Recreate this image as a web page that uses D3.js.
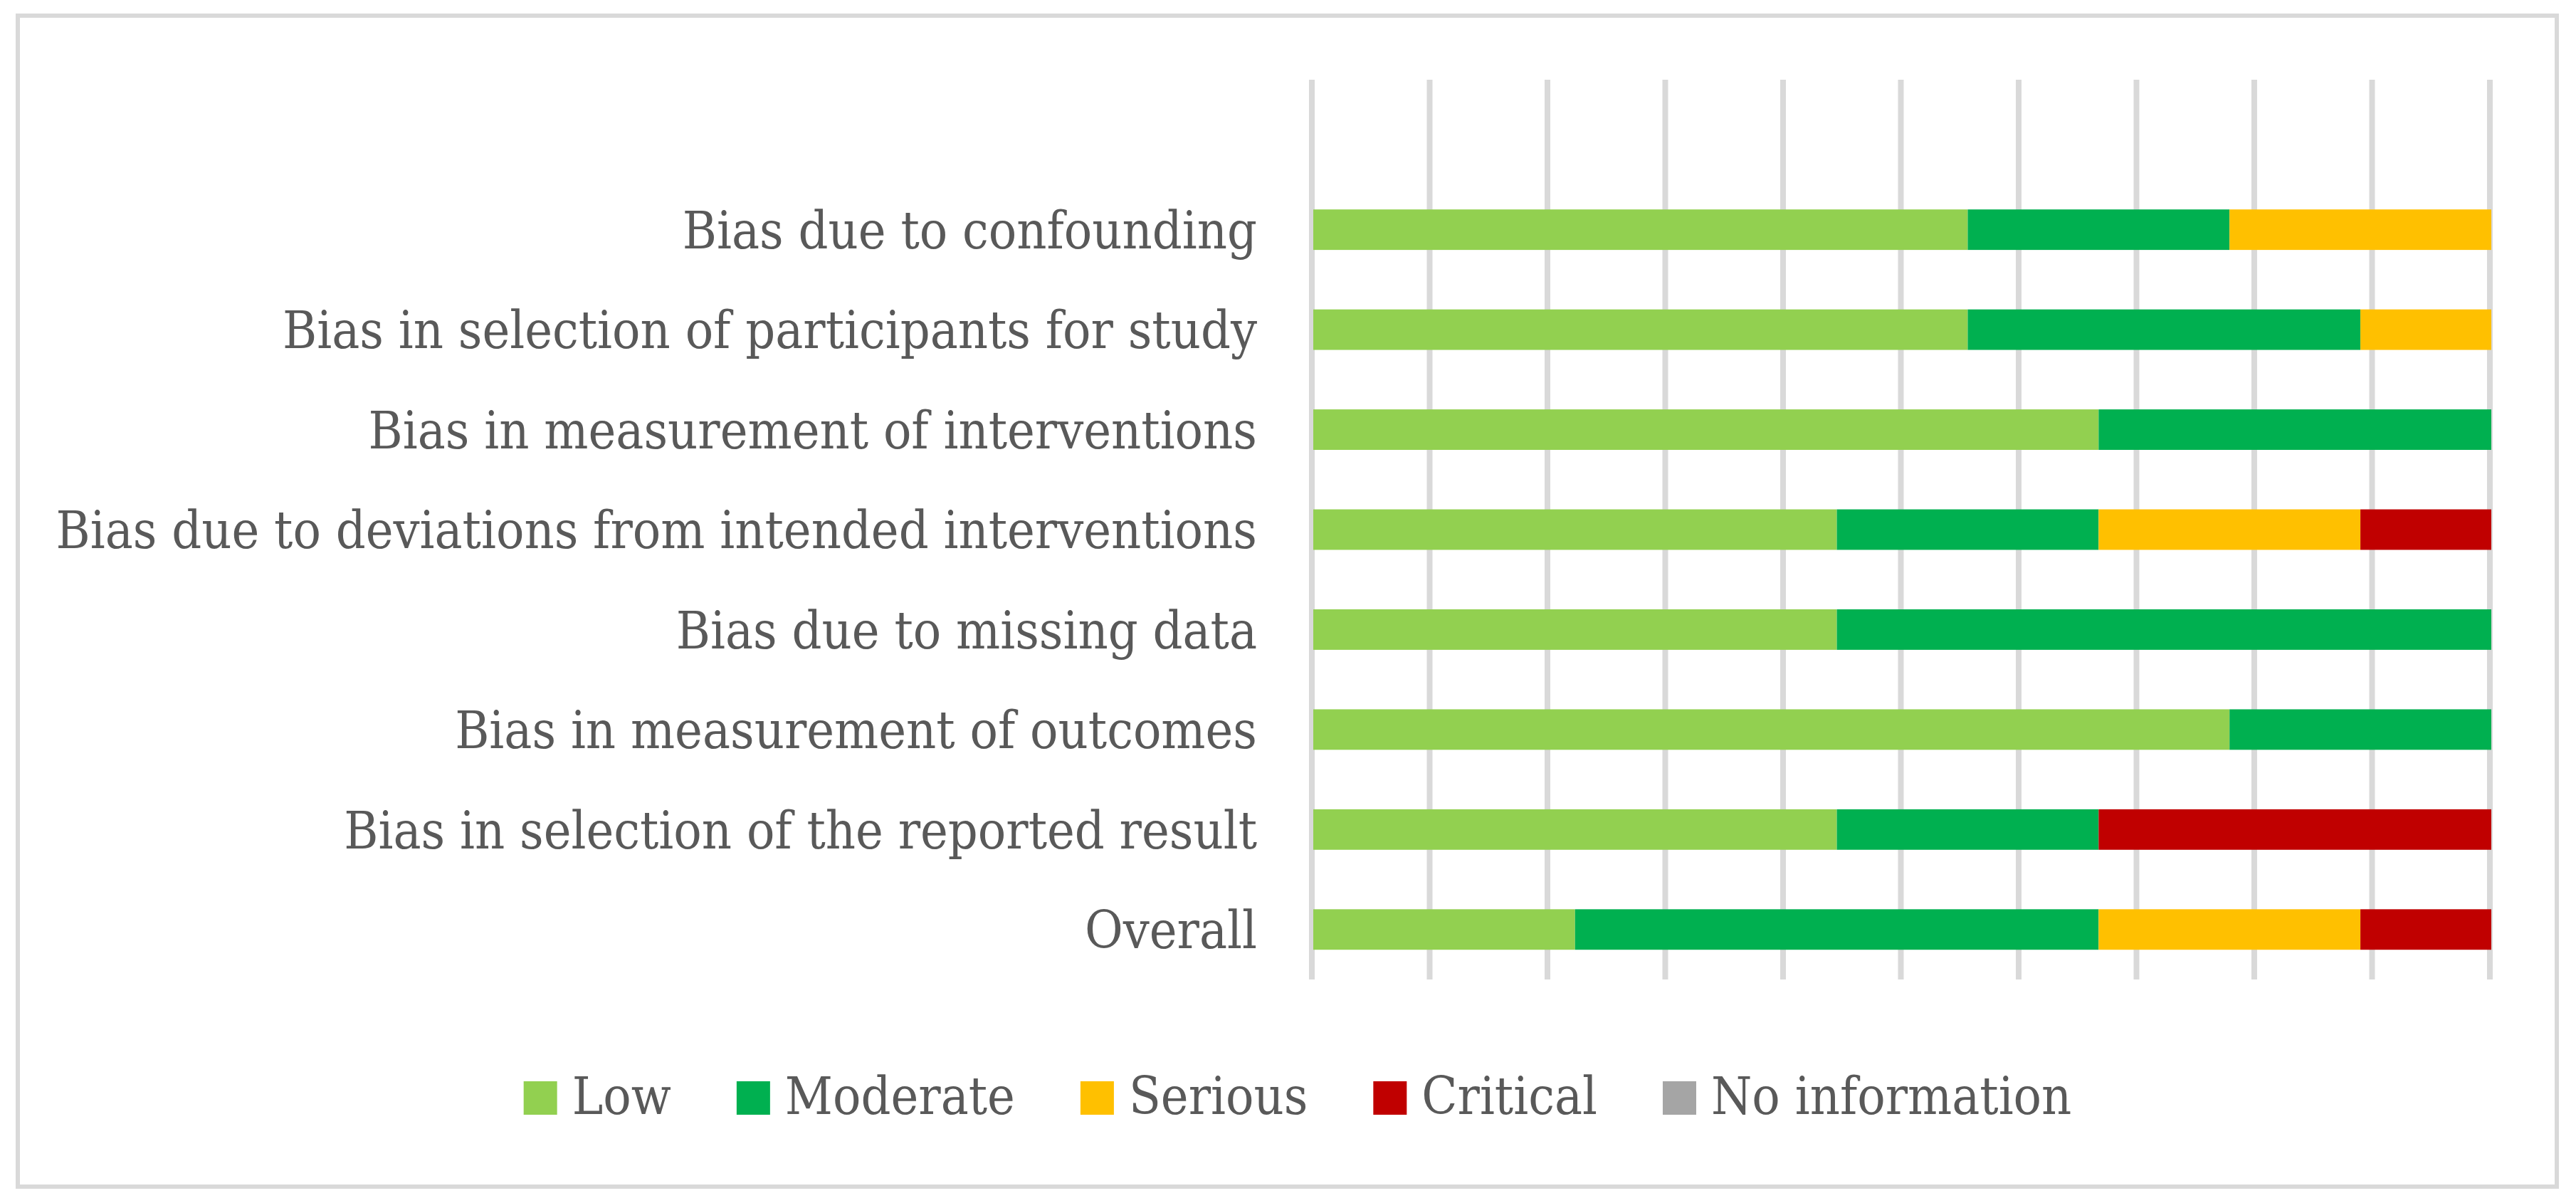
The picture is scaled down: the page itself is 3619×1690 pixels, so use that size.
<!DOCTYPE html>
<html>
<head>
<meta charset="utf-8">
<script src="https://cdn.jsdelivr.net/npm/d3@7"></script>
<style>
  body { margin: 0; background: #fff; }
  text { font-family: "DejaVu Serif Condensed", "DejaVu Serif", serif; fill: #595959; }
</style>
</head>
<body>
<div class="chart"></div>
<script>
// risk of bias judgements, number of studies (9 in total)
var domains = [
    "Bias due to confounding",
    "Bias in selection of participants for study",
    "Bias in measurement of interventions",
    "Bias due to deviations from intended interventions",
    "Bias due to missing data",
    "Bias in measurement of outcomes",
    "Bias in selection of the reported result",
    "Overall"
];
var low = [5, 5, 6, 4, 4, 7, 4, 2];
var moderate = [2, 3, 3, 2, 5, 2, 2, 4];
var serious = [2, 1, 0, 2, 0, 0, 0, 2];
var critical = [0, 0, 0, 1, 0, 0, 3, 1];
var noInfo = [0, 0, 0, 0, 0, 0, 0, 0];
var levels = ["Low", "Moderate", "Serious", "Critical", "No information"];
var gridTicks = [0, 0.1, 0.2, 0.3, 0.4, 0.5, 0.6, 0.7, 0.8, 0.9, 1];

var W = 3619, H = 1690;
var margin = { top: 112, left: 1845, right: 119, bottom: 314 };

var rows = domains.map(function (d, i) {
    var total = low[i] + moderate[i] + serious[i] + critical[i] + noInfo[i];
    return {
        domain: d,
        "Low": low[i] / total,
        "Moderate": moderate[i] / total,
        "Serious": serious[i] / total,
        "Critical": critical[i] / total,
        "No information": noInfo[i] / total
    };
});

var svg = d3.select(".chart")
    .append("svg")
    .attr("width", W)
    .attr("height", H);

// outer frame
svg.append("rect")
    .attr("x", 25).attr("y", 22)
    .attr("width", 3567).attr("height", 1645)
    .attr("fill", "#fff")
    .attr("stroke", "#d9d9d9")
    .attr("stroke-width", 6);

var x = d3.scaleLinear()
    .domain([0, 1])
    .range([margin.left, W - margin.right]);

// an empty band sits above the first domain, as in the original
var y = d3.scaleBand()
    .domain([" "].concat(domains))
    .range([margin.top, H - margin.bottom])
    .paddingInner(0.595)
    .paddingOuter(0.2975);

var color = d3.scaleOrdinal()
    .domain(levels)
    .range(["#92d050", "#00b050", "#ffc000", "#c00000", "#a5a5a5"]);

// vertical gridlines
svg.append("g")
    .selectAll("line")
    .data(gridTicks)
    .enter().append("line")
    .attr("x1", function (d) { return x(d) - 2; })
    .attr("x2", function (d) { return x(d) - 2; })
    .attr("y1", margin.top)
    .attr("y2", H - margin.bottom)
    .attr("stroke", "#d9d9d9")
    .attr("stroke-width", 8);

var stacked = d3.stack().keys(levels)(rows);

svg.append("g")
    .selectAll("g")
    .data(stacked)
    .enter().append("g")
    .attr("fill", function (d) { return color(d.key); })
    .selectAll("rect")
    .data(function (d) { return d; })
    .enter().append("rect")
    .attr("x", function (d) { return x(d[0]); })
    .attr("y", function (d) { return y(d.data.domain); })
    .attr("width", function (d) { return x(d[1]) - x(d[0]); })
    .attr("height", y.bandwidth());

// category labels
var labels = svg.append("g")
    .selectAll("text")
    .data(domains)
    .enter().append("text")
    .attr("x", 1766)
    .attr("y", function (d) { return y(d) + y.bandwidth() / 2; })
    .attr("dy", "0.36em")
    .attr("text-anchor", "end")
    .style("font-size", "70px")
    .text(function (d) { return d; });

// size the font so the longest label spans like the original (~1688px)
var longest = d3.max(labels.nodes(), function (n) { return n.getComputedTextLength(); });
var fontSize = 70 * 1688 / longest;
labels.style("font-size", fontSize + "px");

// legend
var legend = svg.append("g");
var items = legend.selectAll("g")
    .data(levels)
    .enter().append("g");
items.append("rect")
    .attr("width", 47).attr("height", 47)
    .attr("y", 1519)
    .attr("fill", function (d) { return color(d); });
items.append("text")
    .attr("x", 68)
    .attr("y", 1565)
    .style("font-size", fontSize + "px")
    .text(function (d) { return d; });

var pos = 0;
items.each(function () {
    var g = d3.select(this);
    g.attr("transform", "translate(" + pos + ",0)");
    pos += 68 + g.select("text").node().getComputedTextLength() + 92;
});
var legendWidth = pos - 92;
legend.attr("transform", "translate(" + (1823 - legendWidth / 2) + ",0)");
</script>
</body>
</html>
